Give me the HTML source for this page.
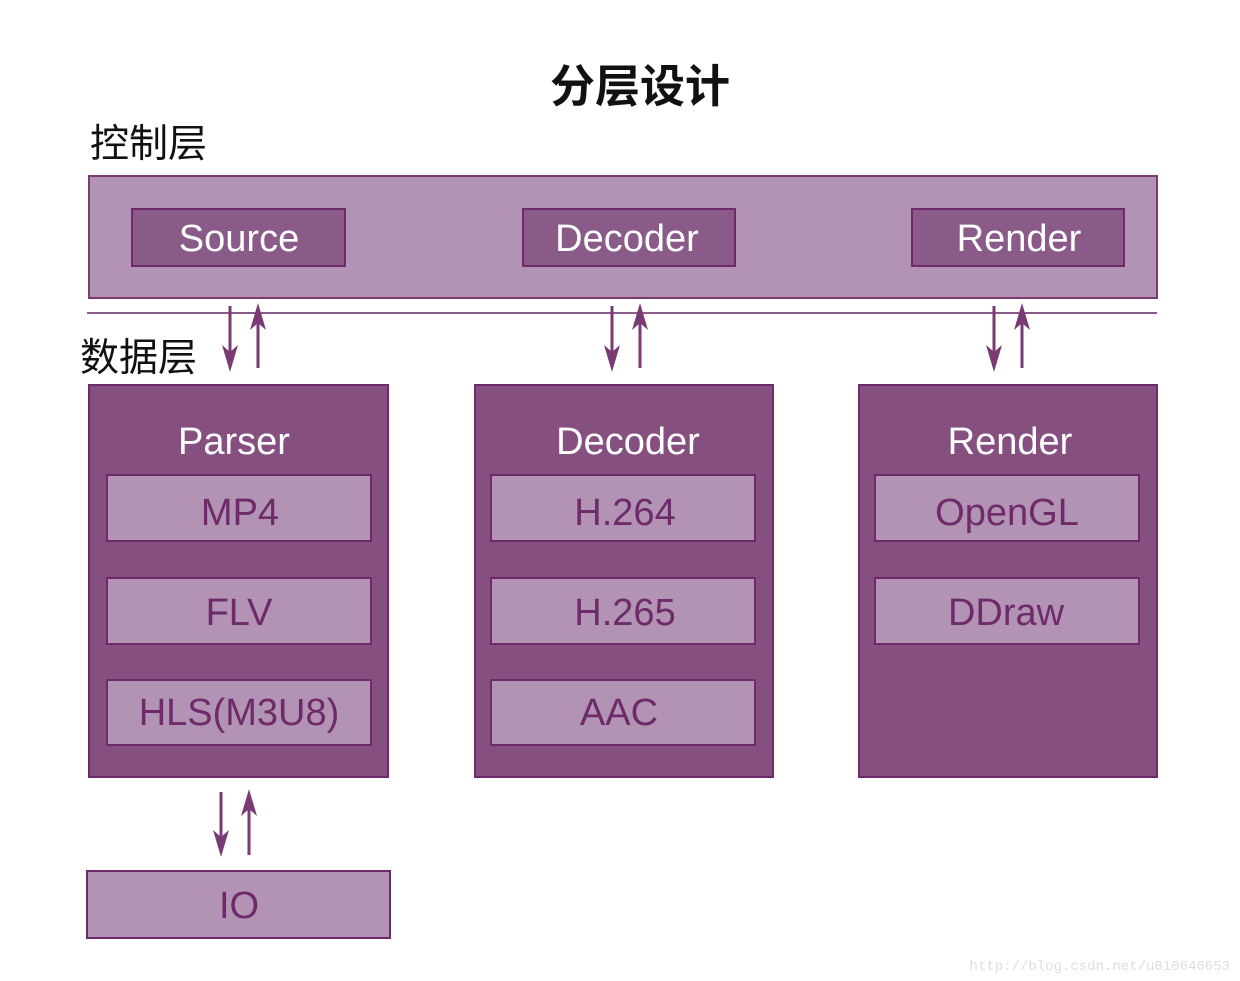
<!DOCTYPE html>
<html><head><meta charset="utf-8"><style>
html,body{margin:0;padding:0;background:#fff;}
svg{display:block}
text{font-family:"Liberation Sans","Noto Sans CJK SC",sans-serif;}
</style></head><body>
<svg width="1240" height="981" viewBox="0 0 1240 981" xmlns="http://www.w3.org/2000/svg">
<text x="640" y="102" text-anchor="middle" font-size="45" font-weight="bold" fill="#111">分层设计</text>
<text x="90" y="157" font-size="39" fill="#111">控制层</text>
<rect x="89" y="176" width="1068" height="122" fill="#b393b3" stroke="#7a3a74" stroke-width="2"/>
<g fill="#8a5a88" stroke="#6e2a6a" stroke-width="2">
<rect x="132" y="209" width="213" height="57"/>
<rect x="523" y="209" width="212" height="57"/>
<rect x="912" y="209" width="212" height="57"/>
</g>
<g font-size="38" fill="#fff" text-anchor="middle">
<text x="239" y="251">Source</text>
<text x="627" y="251">Decoder</text>
<text x="1019" y="251">Render</text>
</g>
<line x1="87" y1="313" x2="1157" y2="313" stroke="#8a5a88" stroke-width="2"/>
<text x="80" y="371" font-size="39" fill="#111">数据层</text>
<g fill="#85507f" stroke="#6e2a6a" stroke-width="2">
<rect x="89" y="385" width="299" height="392"/>
<rect x="475" y="385" width="298" height="392"/>
<rect x="859" y="385" width="298" height="392"/>
</g>
<g font-size="38" fill="#fff" text-anchor="middle">
<text x="234" y="454">Parser</text>
<text x="628" y="454">Decoder</text>
<text x="1010" y="454">Render</text>
</g>
<g fill="#b393b3" stroke="#6e2a6a" stroke-width="2">
<rect x="107" y="475" width="264" height="66"/>
<rect x="107" y="578" width="264" height="66"/>
<rect x="107" y="680" width="264" height="65"/>
<rect x="491" y="475" width="264" height="66"/>
<rect x="491" y="578" width="264" height="66"/>
<rect x="491" y="680" width="264" height="65"/>
<rect x="875" y="475" width="264" height="66"/>
<rect x="875" y="578" width="264" height="66"/>
<rect x="87" y="871" width="303" height="67"/>
</g>
<g font-size="38" fill="#6e2a6a" text-anchor="middle">
<text x="240" y="525">MP4</text>
<text x="239" y="625">FLV</text>
<text x="239" y="725">HLS(M3U8)</text>
<text x="625" y="525">H.264</text>
<text x="625" y="625">H.265</text>
<text x="619" y="725">AAC</text>
<text x="1007" y="525">OpenGL</text>
<text x="1006" y="625">DDraw</text>
<text x="239" y="918">IO</text>
</g>
<g stroke="#7a3a74" stroke-width="3" fill="#7a3a74">
<line x1="230" y1="306" x2="230" y2="360"/><path d="M222 345 L230 372 L238 345 L230 352 Z" stroke="none"/>
<line x1="258" y1="368" x2="258" y2="315"/><path d="M250 330 L258 303 L266 330 L258 323 Z" stroke="none"/>
<line x1="612" y1="306" x2="612" y2="360"/><path d="M604 345 L612 372 L620 345 L612 352 Z" stroke="none"/>
<line x1="640" y1="368" x2="640" y2="315"/><path d="M632 330 L640 303 L648 330 L640 323 Z" stroke="none"/>
<line x1="994" y1="306" x2="994" y2="360"/><path d="M986 345 L994 372 L1002 345 L994 352 Z" stroke="none"/>
<line x1="1022" y1="368" x2="1022" y2="315"/><path d="M1014 330 L1022 303 L1030 330 L1022 323 Z" stroke="none"/>
<line x1="221" y1="792" x2="221" y2="845"/><path d="M213 830 L221 857 L229 830 L221 837 Z" stroke="none"/>
<line x1="249" y1="855" x2="249" y2="801"/><path d="M241 816 L249 789 L257 816 L249 809 Z" stroke="none"/>
</g>
<text x="1230" y="970" text-anchor="end" font-size="14" fill="#ddd" style="font-family:'Liberation Mono',monospace">http://blog.csdn.net/u010646653</text>
</svg>
</body></html>
